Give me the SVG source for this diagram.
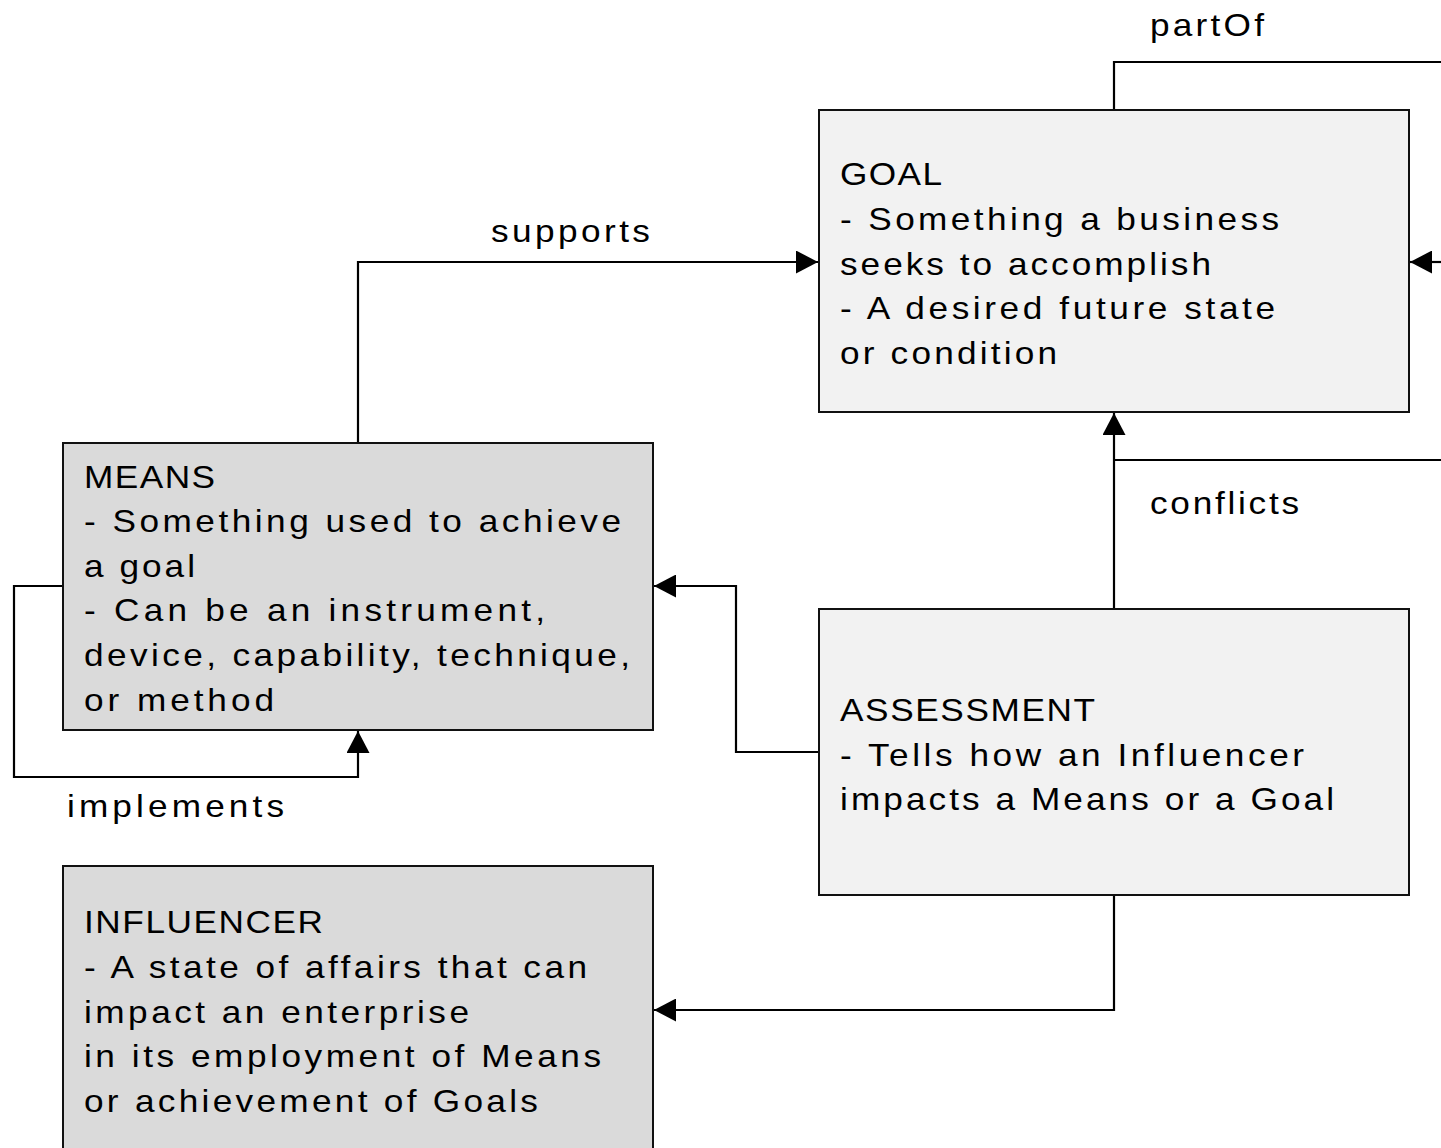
<svg xmlns="http://www.w3.org/2000/svg" width="1441" height="1148" viewBox="0 0 1441 1148">
<style>
.box{stroke:#111;stroke-width:2}
.light{fill:#f2f2f2}
.dark{fill:#dadada}
text{font-family:"Liberation Sans",Arial,sans-serif;font-size:32px;fill:#000}
.conn{fill:none;stroke:#000;stroke-width:2.2}
</style>
<defs>
<marker id="ah" markerUnits="userSpaceOnUse" markerWidth="23" markerHeight="23" refX="22" refY="11.5" orient="auto">
<path d="M0,0 L22,11.5 L0,23 z" fill="#000"/>
</marker>
</defs>
<rect width="1441" height="1148" fill="#fff"/>
<g id="connectors">
<path class="conn" d="M1114,110 V62 H1441"/>
<path class="conn" d="M1441,262 H1410" marker-end="url(#ah)"/>
<path class="conn" d="M1441,460 H1114"/>
<path class="conn" d="M1114,609 V413" marker-end="url(#ah)"/>
<path class="conn" d="M358,443 V262 H818" marker-end="url(#ah)"/>
<path class="conn" d="M819,752 H736 V586 H654" marker-end="url(#ah)"/>
<path class="conn" d="M63,586 H14 V777 H358 V731" marker-end="url(#ah)"/>
<path class="conn" d="M1114,895 V1010 H654" marker-end="url(#ah)"/>
<text transform="translate(1150,36) scale(1.1,1)" textLength="103.6" lengthAdjust="spacing">partOf</text>
<text transform="translate(491,242) scale(1.1,1)" textLength="144.5" lengthAdjust="spacing">supports</text>
<text transform="translate(1150,514) scale(1.1,1)" textLength="135.5" lengthAdjust="spacing">conflicts</text>
<text transform="translate(67,817) scale(1.1,1)" textLength="197.3" lengthAdjust="spacing">implements</text>
</g>
<g id="goal">
<rect class="box light" x="819" y="110" width="590" height="302"/>
<text transform="translate(840,185) scale(1.1,1)" textLength="92.7" lengthAdjust="spacing">GOAL</text>
<text transform="translate(840,230) scale(1.1,1)" textLength="399.1" lengthAdjust="spacing">- Something a business</text>
<text transform="translate(840,275) scale(1.1,1)" textLength="337.3" lengthAdjust="spacing">seeks to accomplish</text>
<text transform="translate(840,319) scale(1.1,1)" textLength="395.5" lengthAdjust="spacing">- A desired future state</text>
<text transform="translate(840,364) scale(1.1,1)" textLength="197.3" lengthAdjust="spacing">or condition</text>
</g>
<g id="means">
<rect class="box dark" x="63" y="443" width="590" height="287"/>
<text transform="translate(84,488) scale(1.1,1)" textLength="119.1" lengthAdjust="spacing">MEANS</text>
<text transform="translate(84,532) scale(1.1,1)" textLength="488.2" lengthAdjust="spacing">- Something used to achieve</text>
<text transform="translate(84,577) scale(1.1,1)" textLength="100.9" lengthAdjust="spacing">a goal</text>
<text transform="translate(84,621) scale(1.1,1)" textLength="419.1" lengthAdjust="spacing">- Can be an instrument,</text>
<text transform="translate(84,666) scale(1.1,1)" textLength="496.4" lengthAdjust="spacing">device, capability, technique,</text>
<text transform="translate(84,711) scale(1.1,1)" textLength="172.7" lengthAdjust="spacing">or method</text>
</g>
<g id="assessment">
<rect class="box light" x="819" y="609" width="590" height="286"/>
<text transform="translate(840,721) scale(1.1,1)" textLength="231.8" lengthAdjust="spacing">ASSESSMENT</text>
<text transform="translate(840,766) scale(1.1,1)" textLength="421.8" lengthAdjust="spacing">- Tells how an Influencer</text>
<text transform="translate(840,810) scale(1.1,1)" textLength="449.1" lengthAdjust="spacing">impacts a Means or a Goal</text>
</g>
<g id="influencer">
<rect class="box dark" x="63" y="866" width="590" height="300"/>
<text transform="translate(84,933) scale(1.1,1)" textLength="217.3" lengthAdjust="spacing">INFLUENCER</text>
<text transform="translate(84,978) scale(1.1,1)" textLength="457.3" lengthAdjust="spacing">- A state of affairs that can</text>
<text transform="translate(84,1023) scale(1.1,1)" textLength="350" lengthAdjust="spacing">impact an enterprise</text>
<text transform="translate(84,1067) scale(1.1,1)" textLength="470" lengthAdjust="spacing">in its employment of Means</text>
<text transform="translate(84,1112) scale(1.1,1)" textLength="412.7" lengthAdjust="spacing">or achievement of Goals</text>
</g>
</svg>
